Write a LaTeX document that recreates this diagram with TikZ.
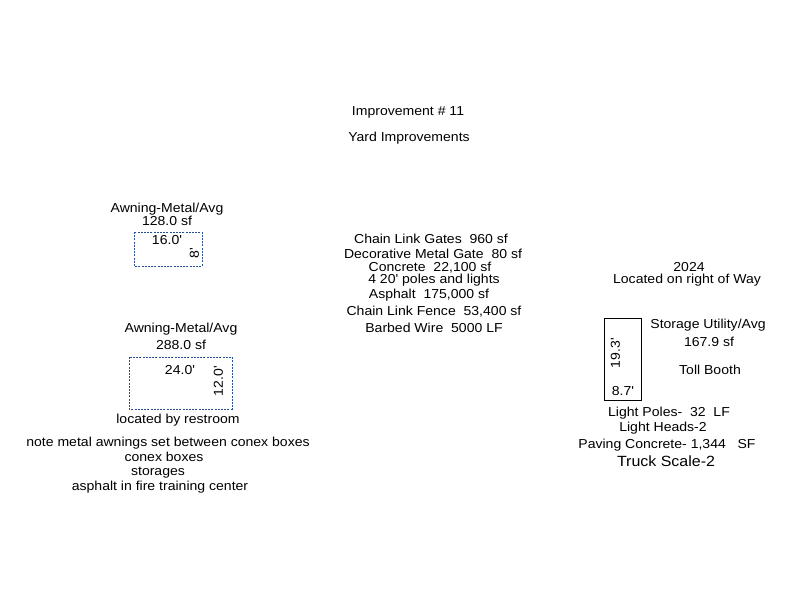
\documentclass[tikz,border=0pt]{standalone}
\usepackage{fontspec}
\setmainfont{Liberation Sans}
\newfontfamily\lbfont[FakeStretch=1.08]{Liberation Sans}
\definecolor{awnblue}{RGB}{40,80,150}
\begin{document}
\begin{tikzpicture}[x=1pt,y=-1pt,
  lbl/.style={inner sep=0pt,font=\lbfont\fontsize{13}{13}\selectfont,anchor=center,yshift=-1.5pt},
  vlbl/.style={inner sep=0pt,font=\lbfont\fontsize{13}{13}\selectfont,anchor=center,rotate=90},
  big/.style={inner sep=0pt,font=\lbfont\fontsize{14.8}{15}\selectfont,anchor=center,yshift=-1.5pt},
  awn/.style={draw=awnblue,dash pattern=on 2pt off 1.2pt,line width=0.75pt},
  bld/.style={draw=black,line width=0.8pt}]
\useasboundingbox (0,0) rectangle (800,600);
\fill[white] (0,0) rectangle (800,600);
\node[lbl] (t1) at (408,111) {Improvement \# 11};
\node[lbl] (t2) at (409,137) {Yard Improvements};
% awning 1
\node[lbl] (a1n) at (167,208) {Awning-Metal/Avg};
\node[lbl] (a1a) at (167,219) {128.0 sf};
\draw[awn] (134,232) rectangle (202,266);
\node[lbl] (a1w) at (167,239) {16.0'};
\node[vlbl] (a1h) at (194.5,253) {8'};
% awning 2
\node[lbl] (a2n) at (181,328) {Awning-Metal/Avg};
\node[lbl] (a2a) at (181,343) {288.0 sf};
\draw[awn] (129,357) rectangle (232,409);
\node[lbl] (a2w) at (180,369) {24.0'};
\node[vlbl] (a2h) at (218.5,381) {12.0'};
\node[lbl] (a2r) at (178,419) {located by restroom};
\node[lbl] (n1) at (168,442) {note metal awnings set between conex boxes};
\node[lbl] (n2) at (164,455) {conex boxes};
\node[lbl] (n3) at (158,471) {storages};
\node[lbl] (n4) at (160,486) {asphalt in fire training center};
% centre list
\node[lbl] (c1) at (431,237) {Chain Link Gates\ \ 960 sf};
\node[lbl] (c2) at (433,252) {Decorative Metal Gate\ \ 80 sf};
\node[lbl] (c3) at (430,266) {Concrete\ \ 22,100 sf};
\node[lbl] (c4) at (434,279) {4 20' poles and lights};
\node[lbl] (c5) at (429,294) {Asphalt\ \ 175,000 sf};
\node[lbl] (c6) at (434,310) {Chain Link Fence\ \ 53,400 sf};
\node[lbl] (c7) at (434,326) {Barbed Wire\ \ 5000 LF};
% right
\node[lbl] (r1) at (689,266) {2024};
\node[lbl] (r2) at (687,279) {Located on right of Way};
\draw[bld] (604,318) rectangle (641,400);
\node[vlbl] (s1) at (615.5,353) {19.3'};
\node[lbl] (s2) at (623,390) {8.7'};
\node[lbl] (s3) at (708,324) {Storage Utility/Avg};
\node[lbl] (s4) at (709,340) {167.9 sf};
\node[lbl] (s5) at (710,368) {Toll Booth};
\node[lbl] (l1) at (669,412) {Light Poles-\ \ 32\ \ LF};
\node[lbl] (l2) at (663,427) {Light Heads-2};
\node[lbl] (l3) at (667,444) {Paving Concrete- 1,344\ \ \ SF};
\node[big] (l4) at (666,460) {Truck Scale-2};
\end{tikzpicture}
\end{document}
